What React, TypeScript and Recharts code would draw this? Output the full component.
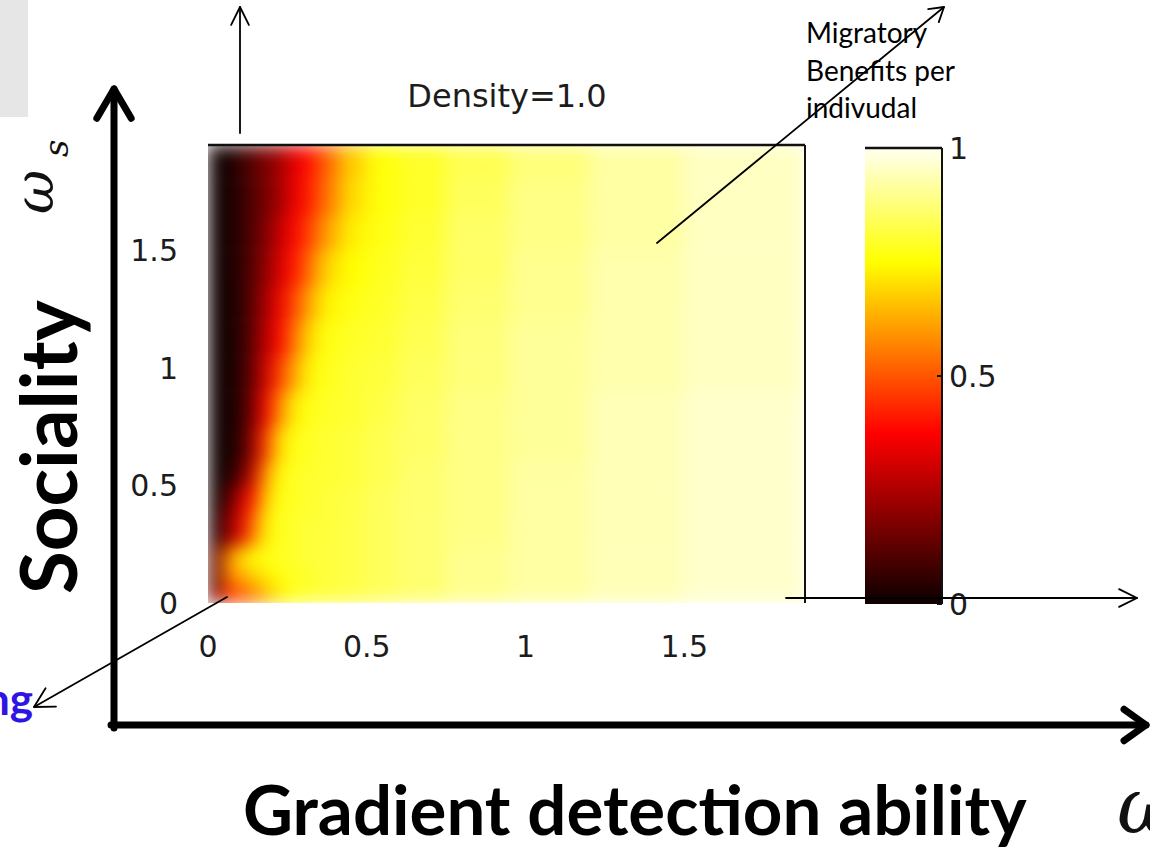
import React from "react";
import { ComposedChart, XAxis, YAxis, ReferenceArea } from "recharts";

// cell edges: gradient detection ability (x) and sociality (y)
const X_EDGES = [0, 0.04, 0.08, 0.12, 0.16, 0.2, 0.24, 0.28, 0.32, 0.36, 0.42, 0.5, 0.6, 0.75, 0.95, 1.2, 1.5, 1.88];
const Y_EDGES = [0, 0.08, 0.16, 0.24, 0.32, 0.4, 0.5, 0.6, 0.75, 0.9, 1.05, 1.2, 1.35, 1.5, 1.65, 1.8, 1.95];

// migratory benefit per individual, one row per sociality band, bottom to top
const ROW_0 = [0.15, 0.45, 0.5, 0.56, 0.64, 0.72, 0.77, 0.79, 0.8, 0.81, 0.82, 0.84, 0.86, 0.89, 0.91, 0.93, 0.95];
const ROW_1 = [0.1, 0.55, 0.62, 0.68, 0.72, 0.76, 0.78, 0.79, 0.8, 0.81, 0.82, 0.84, 0.86, 0.89, 0.91, 0.93, 0.95];
const ROW_2 = [0.12, 0.55, 0.7, 0.75, 0.77, 0.78, 0.79, 0.8, 0.81, 0.81, 0.82, 0.84, 0.86, 0.89, 0.91, 0.93, 0.95];
const ROW_3 = [0.04, 0.2, 0.33, 0.55, 0.72, 0.77, 0.79, 0.8, 0.81, 0.81, 0.82, 0.84, 0.86, 0.88, 0.91, 0.93, 0.95];
const ROW_4 = [0.03, 0.18, 0.33, 0.5, 0.72, 0.77, 0.79, 0.8, 0.8, 0.81, 0.82, 0.84, 0.86, 0.88, 0.91, 0.93, 0.95];
const ROW_5 = [0.02, 0.1, 0.28, 0.4, 0.66, 0.76, 0.78, 0.79, 0.8, 0.81, 0.82, 0.84, 0.86, 0.88, 0.91, 0.93, 0.95];
const ROW_6 = [0.02, 0.04, 0.12, 0.3, 0.58, 0.74, 0.78, 0.79, 0.8, 0.8, 0.81, 0.83, 0.86, 0.88, 0.91, 0.93, 0.95];
const ROW_7 = [0.02, 0.03, 0.07, 0.22, 0.45, 0.68, 0.76, 0.78, 0.79, 0.8, 0.81, 0.83, 0.85, 0.88, 0.9, 0.93, 0.95];
const ROW_8 = [0.02, 0.03, 0.06, 0.18, 0.36, 0.55, 0.7, 0.76, 0.78, 0.79, 0.8, 0.82, 0.85, 0.88, 0.9, 0.93, 0.95];
const ROW_9 = [0.02, 0.03, 0.06, 0.16, 0.3, 0.45, 0.58, 0.7, 0.76, 0.78, 0.8, 0.81, 0.84, 0.87, 0.9, 0.92, 0.94];
const ROW_10 = [0.02, 0.03, 0.06, 0.15, 0.26, 0.37, 0.5, 0.64, 0.73, 0.77, 0.79, 0.8, 0.83, 0.87, 0.9, 0.92, 0.94];
const ROW_11 = [0.02, 0.03, 0.06, 0.14, 0.24, 0.34, 0.45, 0.56, 0.67, 0.74, 0.77, 0.79, 0.82, 0.86, 0.89, 0.92, 0.94];
const ROW_12 = [0.02, 0.03, 0.07, 0.13, 0.21, 0.3, 0.39, 0.48, 0.6, 0.7, 0.75, 0.78, 0.81, 0.85, 0.89, 0.92, 0.94];
const ROW_13 = [0.02, 0.03, 0.07, 0.12, 0.19, 0.27, 0.36, 0.43, 0.52, 0.63, 0.73, 0.77, 0.8, 0.85, 0.88, 0.91, 0.94];
const ROW_14 = [0.02, 0.03, 0.07, 0.12, 0.17, 0.23, 0.32, 0.39, 0.46, 0.57, 0.7, 0.76, 0.79, 0.84, 0.88, 0.91, 0.94];
const ROW_15 = [0.02, 0.03, 0.08, 0.13, 0.18, 0.23, 0.31, 0.38, 0.44, 0.55, 0.68, 0.76, 0.79, 0.83, 0.87, 0.91, 0.94];

const BENEFIT = [
  ROW_0, ROW_1, ROW_2, ROW_3, ROW_4, ROW_5, ROW_6, ROW_7,
  ROW_8, ROW_9, ROW_10, ROW_11, ROW_12, ROW_13, ROW_14, ROW_15,
];

const X_TICKS = [0, 0.5, 1, 1.5];
const Y_TICKS = [0, 0.5, 1, 1.5];
const BAR_TICKS = [0, 0.5, 1];
const X_MAX = 1.88;
const Y_MAX = 1.95;

// matlab "hot" colormap
function hot(v: number) {
  const c = (t: number) => Math.round(255 * Math.max(0, Math.min(1, t)));
  return `rgb(${c(v / 0.375)},${c((v - 0.375) / 0.375)},${c((v - 0.75) / 0.25)})`;
}

const cells = BENEFIT.flatMap((row, j) =>
  row.map((v, i) => ({
    key: `${i}-${j}`,
    x1: X_EDGES[i],
    x2: X_EDGES[i + 1],
    y1: Y_EDGES[j],
    y2: Y_EDGES[j + 1],
    fill: hot(v),
  }))
);

const tickRows = X_TICKS.map((v) => ({ v }));
const barRows = BAR_TICKS.map((v) => ({ v }));

const mono = { fill: "#1c1c1c", fontSize: 30, fontFamily: "DejaVu Sans" };
const slideFont = "Lato, 'Open Sans', sans-serif";

function Arrow({ x1, y1, x2, y2, head = 18, spread = 0.48, width = 1.8 }: any) {
  const a = Math.atan2(y2 - y1, x2 - x1);
  const p1 = `${x2 - head * Math.cos(a - spread)},${y2 - head * Math.sin(a - spread)}`;
  const p2 = `${x2 - head * Math.cos(a + spread)},${y2 - head * Math.sin(a + spread)}`;
  return (
    <g stroke="#000" strokeWidth={width} fill="none" strokeLinecap="round" strokeLinejoin="round">
      <line x1={x1} y1={y1} x2={x2} y2={y2} />
      <polyline points={`${p1} ${x2},${y2} ${p2}`} />
    </g>
  );
}

const layer: React.CSSProperties = { position: "absolute", left: 0, top: 0 };

export default function App() {
  return (
    <div style={{ position: "absolute", left: 0, top: 0, width: 1150, height: 868, overflow: "hidden", background: "#fff" }}>
      <svg width={0} height={0} style={{ position: "absolute" }}>
        <defs>
          <filter id="heat-soften" x="0" y="0" width="1" height="1" colorInterpolationFilters="sRGB">
            <feGaussianBlur stdDeviation="9" edgeMode="duplicate" />
          </filter>
          <linearGradient id="hot-scale" x1="0" y1="1" x2="0" y2="0">
            <stop offset="0" stopColor="#0b0000" />
            <stop offset="0.375" stopColor="#ff0000" />
            <stop offset="0.75" stopColor="#ffff00" />
            <stop offset="1" stopColor="#fffff0" />
          </linearGradient>
        </defs>
      </svg>

      {/* heatmap, smoothed like an interpolated image */}
      <div style={{ position: "absolute", left: 208, top: 145, width: 597, height: 458, filter: "url(#heat-soften)" }}>
        <ComposedChart width={597} height={458} data={cells} margin={{ top: 0, right: 0, bottom: 0, left: 0 }}>
          <XAxis dataKey="x1" type="number" domain={[0, X_MAX]} allowDataOverflow hide />
          <YAxis dataKey="y1" type="number" domain={[0, Y_MAX]} allowDataOverflow hide />
          {cells.map((c) => (
            <ReferenceArea
              key={c.key}
              x1={c.x1}
              x2={c.x2}
              y1={c.y1}
              y2={c.y2}
              fill={c.fill}
              fillOpacity={1}
              stroke={c.fill}
              strokeWidth={0.6}
            />
          ))}
        </ComposedChart>
      </div>

      {/* axes and box of the heatmap */}
      <div style={layer}>
        <ComposedChart width={1150} height={868} data={tickRows} margin={{ top: 144, right: 344, bottom: 205, left: 128 }}>
          <XAxis
            xAxisId="b"
            dataKey="v"
            type="number"
            domain={[0, X_MAX]}
            allowDataOverflow
            ticks={X_TICKS}
            height={60}
            axisLine={false}
            tickLine={false}
            tickMargin={27}
            tick={mono}
          />
          <XAxis
            xAxisId="t"
            dataKey="v"
            orientation="top"
            type="number"
            domain={[0, X_MAX]}
            allowDataOverflow
            height={1}
            tick={false}
            tickLine={false}
            axisLine={{ stroke: "#111", strokeWidth: 2.5 }}
          />
          <YAxis
            yAxisId="l"
            dataKey="v"
            type="number"
            domain={[0, Y_MAX]}
            allowDataOverflow
            ticks={Y_TICKS}
            width={80}
            axisLine={false}
            tickLine={false}
            tickMargin={24}
            tick={mono}
          />
          <YAxis
            yAxisId="r"
            dataKey="v"
            orientation="right"
            type="number"
            domain={[0, Y_MAX]}
            allowDataOverflow
            width={1}
            tick={false}
            tickLine={false}
            axisLine={{ stroke: "#111", strokeWidth: 2 }}
          />
        </ComposedChart>
      </div>

      {/* colour bar */}
      <div style={layer}>
        <ComposedChart width={1150} height={868} data={barRows} margin={{ top: 147, right: 207, bottom: 264, left: 865 }}>
          <XAxis dataKey="v" type="number" domain={[0, 1]} allowDataOverflow hide />
          <XAxis
            xAxisId="t"
            dataKey="v"
            orientation="top"
            type="number"
            domain={[0, 1]}
            allowDataOverflow
            height={1}
            tick={false}
            tickLine={false}
            axisLine={{ stroke: "#111", strokeWidth: 2.5 }}
          />
          <YAxis
            dataKey="v"
            orientation="right"
            type="number"
            domain={[0, 1]}
            allowDataOverflow
            ticks={BAR_TICKS}
            width={1}
            tickSize={-5}
            tickMargin={12}
            tickLine={{ stroke: "#111", strokeWidth: 2 }}
            axisLine={{ stroke: "#111", strokeWidth: 2 }}
            tick={mono}
          />
          <ReferenceArea x1={0} x2={1} y1={0} y2={1} fill="url(#hot-scale)" fillOpacity={1} stroke="none" />
        </ComposedChart>
      </div>

      {/* slide annotations */}
      <svg width={1150} height={868} style={layer}>
        <rect x={0} y={0} width={28} height={117} fill="#e6e6e6" />

        <text x={507} y={107} textAnchor="middle" fontFamily="DejaVu Sans" fontSize={32} fill="#1c1c1c">
          Density=1.0
        </text>

        <g fontFamily={slideFont} fontSize={28} fill="#000">
          <text x={806} y={43}>Migratory</text>
          <text x={806} y={81}>Benefits per</text>
          <text x={806} y={118}>indivudal</text>
        </g>

        <text
          transform="translate(77, 594) rotate(-90)"
          fontFamily={slideFont}
          fontWeight={700}
          fontSize={78}
          fill="#000"
        >
          Sociality
        </text>
        <text x={243} y={835} fontFamily={slideFont} fontWeight={700} fontSize={69} fill="#000">
          Gradient detection ability
        </text>
        <text x={33} y={715} textAnchor="end" fontFamily={slideFont} fontWeight={700} fontSize={44} fill="#2f14e4">
          ng
        </text>

        <g fontFamily="'DejaVu Serif', serif" fontStyle="italic" fill="#111">
          <text transform="translate(53, 214) rotate(-90)" fontSize={54}>ω</text>
          <text transform="translate(68, 157) rotate(-90)" fontSize={34}>s</text>
          <text x={1117} y={833} fontSize={78}>ω</text>
        </g>

        {/* thick slide axes */}
        <Arrow x1={114} y1={728} x2={114} y2={89} head={34} spread={0.53} width={7} />
        <Arrow x1={111} y1={725} x2={1146} y2={725} head={27} spread={0.62} width={7} />

        {/* thin pointers */}
        <Arrow x1={240} y1={133} x2={240} y2={7} head={20} spread={0.46} />
        <Arrow x1={657} y1={243} x2={944} y2={7} head={16} spread={0.55} />
        <Arrow x1={227} y1={597} x2={34} y2={707} head={22} spread={0.5} />
        <Arrow x1={786} y1={598} x2={1137} y2={598} head={20} spread={0.46} />
      </svg>
    </div>
  );
}
